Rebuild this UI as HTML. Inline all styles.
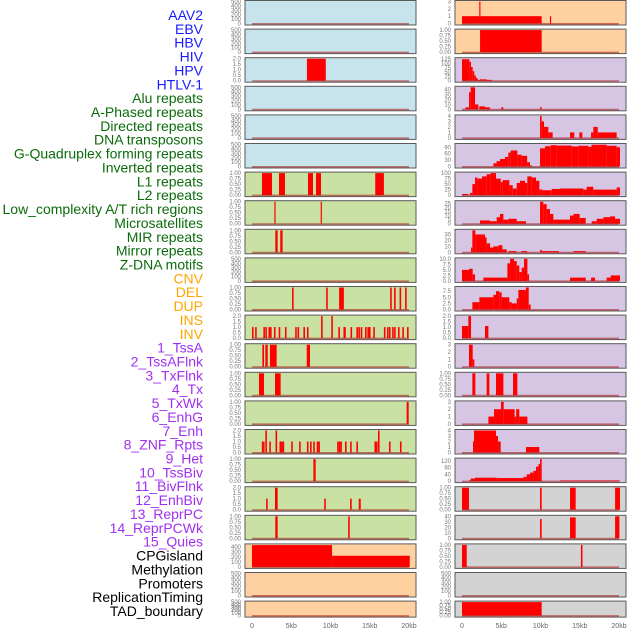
<!DOCTYPE html>
<html><head><meta charset="utf-8"><style>
html,body{margin:0;padding:0;background:#fff;width:630px;height:630px;overflow:hidden}
svg{display:block;font-family:"Liberation Sans",sans-serif}
</style></head><body>
<svg id="chart" width="630" height="630" viewBox="0 0 630 630" xmlns="http://www.w3.org/2000/svg"></svg>
<script>
const trackLabels = ["AAV2","EBV","HBV","HIV","HPV","HTLV-1","Alu repeats","A-Phased repeats","Directed repeats","DNA transposons","G-Quadruplex forming repeats","Inverted repeats","L1 repeats","L2 repeats","Low_complexity A/T rich regions","Microsatellites","MIR repeats","Mirror repeats","Z-DNA motifs","CNV","DEL","DUP","INS","INV","1_TssA","2_TssAFlnk","3_TxFlnk","4_Tx","5_TxWk","6_EnhG","7_Enh","8_ZNF_Rpts","9_Het","10_TssBiv","11_BivFlnk","12_EnhBiv","13_ReprPC","14_ReprPCWk","15_Quies","CPGisland","Methylation","Promoters","ReplicationTiming","TAD_boundary"];
const labelGroups = [0,0,0,0,0,0,1,1,1,1,1,1,1,1,1,1,1,1,1,2,2,2,2,2,3,3,3,3,3,3,3,3,3,3,3,3,3,3,3,4,4,4,4,4];
const xTickValues = [0,5,10,15,20];
const xTickLabels = ["0","5kb","10kb","15kb","20kb"];

const T500=[0,100,200,300,400,500], T500L=["0","100","200","300","400","500"];
const T2=[0,0.5,1,1.5,2], T2L=["0.0","0.5","1.0","1.5","2.0"];
const T1=[0,0.25,0.5,0.75,1], T1L=["0.00","0.25","0.50","0.75","1.00"];
const T3=[0,1,2,3], T3L=["0","1","2","3"];
const T4=[0,1,2,3,4], T4L=["0","1","2","3","4"];

// segments: [startKb, endKb, value]
const segL2=[[7.0,9.4,2]];
const segL6=[[1.27,2.55,1],[3.44,4.2,1],[7.13,7.77,1],[8.15,8.79,1],[15.7,16.8,1]];
const segL7=[[2.85,3.0,1],[8.75,8.9,1]];
const segL8=[[2.97,3.27,1],[3.6,3.9,1]];
const segL10=[[5.1,5.3,1],[9.45,9.65,1],[11.1,11.7,1],[17.6,17.8,1],[18.1,18.3,1],[18.8,19.0,1],[19.5,19.7,1]];
const segL11=[[0.0,0.2,1],[0.4,0.6,1],[1.45,1.65,1],[1.7,1.9,1],[2.1,2.3,1],[2.3,2.5,1],[2.8,3.0,1],[3.4,3.6,1],[4.2,4.4,1],[5.5,5.7,1],[5.8,6.0,1],[6.55,6.75,1],[7.0,7.2,1],[8.8,9.0,2],[10.1,10.3,2],[11.0,11.2,1],[11.65,11.95,1],[12.55,12.75,1],[13.3,13.5,1],[13.55,13.75,1],[13.85,14.05,1],[14.4,14.6,1],[14.7,14.9,1],[14.9,15.1,1],[15.45,15.65,1],[16.8,17.0,1],[17.2,17.4,1],[17.45,17.65,1],[17.85,18.05,1],[18.1,18.3,1],[18.6,18.8,1],[19.15,19.35,1],[19.75,19.95,1]];
const segL12=[[1.32,1.53,1],[1.7,2.0,1],[2.29,3.14,1],[6.97,7.39,1]];
const segL13=[[0.89,1.53,1],[2.93,3.65,1]];
const segL14=[[19.7,19.96,1]];
const segL15=[[1.25,1.45,1],[1.45,1.6,1],[1.7,1.9,2],[2.2,2.4,1],[3.0,3.2,2],[3.5,3.7,1],[3.7,3.9,1],[3.9,4.1,1],[5.0,5.2,1],[6.0,6.2,1],[7.0,7.2,1],[7.4,7.6,1],[7.8,8.0,1],[8.25,8.45,1],[8.45,8.65,1],[10.85,11.05,1],[11.05,11.25,1],[11.25,11.45,1],[11.85,12.05,1],[12.5,12.7,1],[13.3,13.5,1],[15.6,15.8,1],[15.8,16.0,1],[16.05,16.25,2],[17.45,17.65,1],[18.85,19.05,1]];
const segL16=[[7.82,8.11,1]];
const segL17=[[1.8,2.0,1],[2.93,3.27,2],[9.2,9.4,1],[12.5,12.7,1],[13.6,13.85,1]];
const segL18=[[2.97,3.27,1],[12.25,12.45,1]];
const segL19=[[0,10.2,440],[10.2,20.1,225]];

const segR0=[[0,10.15,1],[2.2,2.35,3],[11.2,11.35,1]];
const segR1=[[2.3,10.15,1]];
const segR2=[[0,0.94,125],[0.94,1.15,110],[1.15,1.36,80],[1.36,1.57,55],[1.57,1.79,30],[1.79,2.0,15],[2.0,2.29,5],[2.29,3.14,8],[3.14,3.78,5]];
const segR3=[[0.43,0.89,4],[0.89,1.1,35],[1.1,1.66,45],[1.66,2.08,10],[2.2,2.93,6],[2.93,3.57,4],[5.0,5.27,4],[9.94,10.15,4]];
const segR4=[[9.94,10.15,4],[10.15,10.45,3],[10.45,11.0,2],[11.0,11.55,1],[13.76,14.31,1],[14.95,15.33,1],[16.44,16.73,1],[16.73,17.29,2],[17.29,19.7,1]];
const segR5=[[4.0,4.4,15],[4.4,4.84,25],[4.84,5.48,35],[5.48,5.9,45],[5.9,6.2,65],[6.2,7.05,75],[7.05,7.6,55],[7.6,8.3,50],[8.3,8.66,20],[8.66,8.92,5],[9.94,10.58,85],[10.58,11.3,95],[11.3,12.06,100],[12.06,13.97,98],[13.97,14.82,94],[14.82,16.1,97],[16.1,16.5,92],[16.5,18.43,102],[18.43,19.7,97],[19.7,20.13,90]];
const segR6=[[0,0.81,5],[1.02,1.32,10],[1.32,1.66,50],[1.66,1.96,80],[1.96,2.55,75],[2.55,3.14,85],[3.14,3.65,95],[3.65,4.33,100],[4.33,4.93,75],[4.93,5.18,60],[5.18,6.03,68],[6.03,6.46,45],[6.46,6.97,30],[6.97,7.39,55],[7.39,8.03,65],[8.03,8.32,55],[8.32,8.88,85],[8.88,9.43,80],[9.43,9.85,65],[9.85,10.28,25],[10.28,11.43,22],[11.43,12.49,28],[12.49,15.46,30],[15.46,15.88,25],[15.88,16.73,38],[16.73,19.7,25],[19.7,20.13,35]];
const segR7=[[2.29,3.57,4],[3.57,4.42,3],[4.42,4.84,8],[4.84,5.27,12],[5.27,5.9,5],[5.9,6.97,6],[6.97,8.15,3],[9.94,10.36,27],[10.36,10.79,24],[10.79,11.21,18],[11.21,11.64,12],[11.64,13.76,5],[13.76,14.2,10],[14.2,14.99,12],[14.99,15.76,7],[16.52,17.16,3],[17.16,18.01,6],[18.01,18.86,8],[18.86,19.5,9],[19.5,20.13,6]];
const segR8=[[1.15,1.32,8],[1.32,1.7,37],[1.7,2.93,30],[2.93,3.14,25],[3.14,3.57,15],[3.57,4.0,8],[4.0,4.63,10],[4.63,5.14,12],[5.14,5.69,5],[5.9,6.97,2],[7.52,8.32,2],[9.94,10.15,4],[10.15,12.36,2],[14.2,15.76,2]];
const segR9=[[0,0.89,5],[0.89,1.36,5.5],[1.36,1.66,3],[2.72,5.78,1.5],[5.78,6.12,8],[6.12,6.63,10],[6.63,6.97,9],[6.97,7.3,7],[7.3,7.6,4],[7.6,7.9,6],[7.9,8.33,10],[8.33,8.54,3],[13.76,15.76,1.5],[16.44,16.95,1.5],[18.43,18.94,1.5],[18.94,20.13,2.5]];
const segR10=[[1.32,2.21,3],[2.21,4.0,5],[4.0,4.33,6],[4.33,4.76,7.5],[4.76,5.05,7],[5.05,6.03,5],[6.03,6.33,3],[6.33,6.97,2.5],[6.97,7.18,4.5],[7.18,8.15,8],[8.15,8.5,9],[8.5,8.75,2]];
const segR11=[[0,0.81,1.1],[0.81,1.15,2],[2.93,3.36,1.1]];
const segR12=[[0.89,1.36,3],[1.36,1.57,1]];
const segR13=[[1.32,1.7,1],[3.14,3.48,1],[4.33,5.27,1],[6.5,7.05,1]];
const segR14=[[3.36,4.08,1],[4.08,4.97,2],[4.97,5.31,3],[5.31,6.7,2],[6.7,6.9,1],[6.9,7.3,2],[7.3,8.33,1]];
const segR15=[[1.4,1.53,2],[1.53,4.33,4],[4.33,4.59,3],[4.59,4.93,2],[8.15,9.85,1]];
const segR16=[[0.89,1.1,5],[1.1,1.66,15],[1.66,4.42,20],[4.42,7.82,18],[7.82,8.24,25],[8.24,8.67,40],[8.67,9.09,50],[9.09,9.43,60],[9.43,9.73,85],[9.73,9.94,100],[9.94,10.15,130],[12.49,20.13,4]];
const segR17=[[0,0.89,1],[9.94,10.15,1],[13.76,14.48,1],[19.5,20.13,1]];
const segR18=[[9.94,10.15,35],[13.76,14.48,38],[19.5,20.05,40]];
const segR19=[[0,0.6,1],[15.15,15.35,1]];
const segR21=[[0,10.15,1]];

const BLUE="#c7e3eb",GREEN="#c9e1a3",ORANGE="#ffd1a0",PURPLE="#d6c6e3",GRAY="#d3d3d3";
const leftPanels=[
 [BLUE,500,T500,T500L,[]],[BLUE,500,T500,T500L,[]],[BLUE,2,T2,T2L,segL2],[BLUE,500,T500,T500L,[]],[BLUE,500,T500,T500L,[]],[BLUE,500,T500,T500L,[]],
 [GREEN,1,T1,T1L,segL6],[GREEN,1,T1,T1L,segL7],[GREEN,1,T1,T1L,segL8],[GREEN,500,T500,T500L,[]],[GREEN,1,T1,T1L,segL10],[GREEN,2,T2,T2L,segL11],
 [GREEN,1,T1,T1L,segL12],[GREEN,1,T1,T1L,segL13],[GREEN,1,T1,T1L,segL14],[GREEN,2,T2,T2L,segL15],[GREEN,1,T1,T1L,segL16],[GREEN,2,T2,T2L,segL17],[GREEN,1,T1,T1L,segL18],
 [ORANGE,444,[0,100,200,300,400],["0","100","200","300","400"],segL19],[ORANGE,500,T500,T500L,[]],[ORANGE,500,T500,T500L,[]]];
const rightPanels=[
 [ORANGE,3,T3,T3L,segR0],[ORANGE,1,T1,T1L,segR1],
 [PURPLE,128,[0,25,50,75,100,125],["0","25","50","75","100","125"],segR2],[PURPLE,45,[0,10,20,30,40],["0","10","20","30","40"],segR3],
 [PURPLE,4,T4,T4L,segR4],[PURPLE,103,[0,30,60,90],["0","30","60","90"],segR5],[PURPLE,100,[0,25,50,75,100],["0","25","50","75","100"],segR6],
 [PURPLE,27,[0,5,10,15,20,25],["0","5","10","15","20","25"],segR7],[PURPLE,37,[0,10,20,30],["0","10","20","30"],segR8],
 [PURPLE,10,[0,2.5,5,7.5,10],["0.0","2.5","5.0","7.5","10.0"],segR9],[PURPLE,9,[0,2.5,5,7.5],["0.0","2.5","5.0","7.5"],segR10],
 [PURPLE,2,T2,T2L,segR11],[PURPLE,3,T3,T3L,segR12],[PURPLE,1,T1,T1L,segR13],[PURPLE,3,T3,T3L,segR14],[PURPLE,4,T4,T4L,segR15],
 [PURPLE,130,[0,40,80,120],["0","40","80","120"],segR16],
 [GRAY,1,T1,T1L,segR17],[GRAY,40,[0,10,20,30,40],["0","10","20","30","40"],segR18],[GRAY,1,T1,T1L,segR19],[GRAY,500,T500,T500L,[]],[GRAY,1,T1,T1L,segR21]];

const NS="http://www.w3.org/2000/svg";
const svg=document.getElementById('chart');
function mk(tag,attrs,parent){const e=document.createElementNS(NS,tag);for(const k in attrs)e.setAttribute(k,attrs[k]);(parent||svg).appendChild(e);return e;}
const groupColors=["#1a1aff","#0b6b0b","#ffa500","#a030f0","#000000"];

trackLabels.forEach((t,i)=>{
 const e=mk('text',{x:203,y:15+i*13.86+5,'text-anchor':'end','font-size':'14',fill:groupColors[labelGroups[i]]});
 e.textContent=t;
 
 
});

function drawColumn(panels,px0,px1,x0data,colName){
 const xs=v=>x0data+v*(157/20);
 panels.forEach((p,i)=>{
  const [bg,ymax,ticks,tl,segs]=p;
  const top=0.5+i*28.6, h=(i===21)?16:24.5, bot=top+h;
  const g=mk('g',{});
  
  
  const r=mk('rect',{x:px0,y:top,width:px1-px0,height:h,fill:bg,stroke:'#5a5a5a','stroke-width':1},g);
  
  
  const ys=v=>bot-1.5-(v/ymax)*(h-2.5);
  segs.forEach(s=>{
   const b=mk('rect',{x:xs(s[0]),y:ys(s[2]),width:Math.max(1,xs(s[1])-xs(s[0])),height:ys(0)-ys(s[2]),fill:'#ff0000'},g);
   
   
  });
  const bl=mk('line',{x1:xs(0),x2:xs(20),y1:bot-1.2,y2:bot-1.2,stroke:'rgba(170,20,20,0.55)','stroke-width':1.6},g);
  
  
  ticks.forEach((tv,k)=>{
   const te=mk('text',{x:px0-4,y:ys(tv)+2,'text-anchor':'end','font-size':'6',fill:'#777'},g);
   te.textContent=tl[k];
   
   
  });
 });
 xTickValues.forEach((v,k)=>{
  const te=mk('text',{x:xs(v),y:628,'text-anchor':'middle','font-size':'7',fill:'#666'});
  te.textContent=xTickLabels[k];
  
  
 });
}
drawColumn(leftPanels,245,416,252,'left');
drawColumn(rightPanels,455,626,462,'right');
</script>
</body></html>
